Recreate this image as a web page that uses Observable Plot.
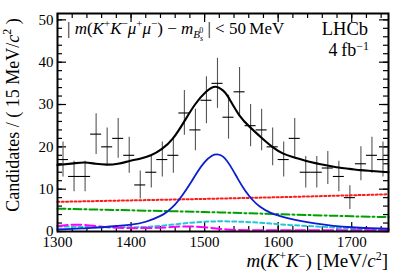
<!DOCTYPE html>
<html>
<head>
<meta charset="utf-8">
<script src="https://cdn.jsdelivr.net/npm/d3@7"></script>
<script src="https://cdn.jsdelivr.net/npm/@observablehq/plot@0.6"></script>
<style>
  html, body { margin: 0; padding: 0; background: white; }
  svg { display: block; }
</style>
</head>
<body>
<div id="chart"></div>
<script>
// ---- Data ----
const binCenters = [1307.5,1322.5,1337.5,1352.5,1367.5,1382.5,1397.5,1412.5,1427.5,1442.5,
                    1457.5,1472.5,1487.5,1502.5,1517.5,1532.5,1547.5,1562.5,1577.5,1592.5,
                    1607.5,1622.5,1637.5,1652.5,1667.5,1682.5,1697.5,1712.5,1727.5,1742.5];
const binCounts  = [17,13,13,23,20,22,18,11,14,17,18,28,24,31,35,27,33,25,24,20,17,22,14,14,15,13,8,16,18,17];
const binHalfWidth = 7.5;

const totalMass = [1300,1322,1337,1352,1367,1382,1397,1412,1427,1442,1457,1472,1487,1502,1515,1525,1532,1547,1562,1577,1592,1607,1622,1637,1652,1667,1682,1697,1712,1727,1750];
const totalFit  = [15.7,16.1,16.3,16.0,15.8,16.0,16.6,17.2,18.0,19.5,22.0,25.9,30.0,33.0,34.2,33.3,31.8,27.5,24.6,22.2,20.0,18.4,17.5,16.7,16.1,15.6,15.1,14.8,14.5,14.3,14.0];

const signalMass = [1300,1320,1340,1360,1380,1400,1420,1440,1450,1460,1470,1480,1490,1500,1510,1517,1525,1535,1545,1555,1565,1575,1590,1610,1630,1650,1675,1700,1725,1750];
const signalFit  = [0.5,0.6,0.8,1.0,1.3,1.6,2.3,3.7,4.8,6.4,8.6,11.2,14.0,16.4,17.9,18.2,17.7,15.5,12.5,9.7,7.5,5.9,4.4,3.3,2.5,1.9,1.35,1.0,0.8,0.65];

const redMass = [1300,1400,1500,1600,1700,1750];
const redFit  = [7.0,7.35,7.7,8.1,8.55,8.8];

const greenMass = [1300,1400,1500,1600,1700,1750];
const greenFit  = [5.4,5.0,4.6,4.1,3.6,3.4];

const cyanMass = [1300,1330,1360,1400,1430,1460,1490,1520,1550,1580,1610,1640,1670,1700,1730,1750];
const cyanFit  = [1.2,1.1,1.0,1.0,1.2,1.7,2.2,2.4,2.3,2.0,1.6,1.3,1.0,0.7,0.5,0.4];

const magentaMass = [1300,1320,1340,1370,1400,1440,1470,1500,1530,1560,1600,1650,1700,1750];
const magentaFit  = [1.3,1.6,1.5,1.0,0.8,0.9,1.2,1.0,0.5,0.3,0.3,0.3,0.3,0.3];

const xMajorTicks = [1300,1400,1500,1600,1700];
const xMinorTicks = d3.range(1300, 1751, 20);
const yMajorTicks = [0,10,20,30,40,50];
const yMinorTicks = d3.range(0, 51.5, 2);

// ---- Build tables ----
const points = binCenters.map((m, i) => ({m, n: binCounts[i], e: Math.sqrt(binCounts[i])}));
const toRows = (xs, ys) => xs.map((x, i) => ({x, y: ys[i]}));

const W = 409, H = 277;
const mL = 57, mR = 21, mT = 13, mB = 46;
const pW = W - mL - mR, pH = H - mT - mB;
const majorLen = 9, minorLen = 5;

const plot = Plot.plot({
  width: W, height: H,
  marginLeft: mL, marginRight: mR, marginTop: mT, marginBottom: mB,
  x: {domain: [1300, 1750]},
  y: {domain: [0, 51.5]},
  style: {fontFamily: "'Liberation Serif', 'Times New Roman', serif", fontSize: "15px", color: "black", background: "white"},
  marks: [
    Plot.axisX(xMajorTicks, {anchor: "bottom", tickSize: 0, tickPadding: 5, fontSize: 15, label: null, tickFormat: d => String(d)}),
    Plot.axisY(yMajorTicks, {anchor: "left", tickSize: 0, tickPadding: 4, fontSize: 15, label: null, tickFormat: d => String(d)}),
    // inward ticks on all four sides
    Plot.tickX(xMajorTicks, {x: d => d, insetTop: pH - majorLen, stroke: "black", strokeWidth: 1.2}),
    Plot.tickX(xMinorTicks, {x: d => d, insetTop: pH - minorLen, stroke: "black", strokeWidth: 1.2}),
    Plot.tickX(xMajorTicks, {x: d => d, insetBottom: pH - majorLen, stroke: "black", strokeWidth: 1.2}),
    Plot.tickX(xMinorTicks, {x: d => d, insetBottom: pH - minorLen, stroke: "black", strokeWidth: 1.2}),
    Plot.tickY(yMajorTicks, {y: d => d, insetRight: pW - majorLen, stroke: "black", strokeWidth: 1.2}),
    Plot.tickY(yMinorTicks, {y: d => d, insetRight: pW - minorLen, stroke: "black", strokeWidth: 1.2}),
    Plot.tickY(yMajorTicks, {y: d => d, insetLeft: pW - majorLen, stroke: "black", strokeWidth: 1.2}),
    Plot.tickY(yMinorTicks, {y: d => d, insetLeft: pW - minorLen, stroke: "black", strokeWidth: 1.2}),
    // data points
    Plot.ruleX(points, {x: "m", y1: d => d.n - d.e, y2: d => d.n + d.e, stroke: "#555", strokeWidth: 1.1}),
    Plot.ruleY(points, {y: "n", x1: d => d.m - binHalfWidth, x2: d => d.m + binHalfWidth, stroke: "black", strokeWidth: 1.1}),
    // fit components
    Plot.line(toRows(redMass, redFit), {x: "x", y: "y", stroke: "#ff1a1a", strokeWidth: 2, strokeDasharray: "2 2.3", curve: "natural"}),
    Plot.line(toRows(greenMass, greenFit), {x: "x", y: "y", stroke: "#00a000", strokeWidth: 2, strokeDasharray: "8 3 2 3", curve: "natural"}),
    Plot.line(toRows(cyanMass, cyanFit), {x: "x", y: "y", stroke: "#20c8d8", strokeWidth: 2, strokeDasharray: "4 3", curve: "natural"}),
    Plot.line(toRows(magentaMass, magentaFit), {x: "x", y: "y", stroke: "#ff00ff", strokeWidth: 2, strokeDasharray: "10 4", curve: "natural"}),
    Plot.line(toRows(signalMass, signalFit), {x: "x", y: "y", stroke: "#0a1ed0", strokeWidth: 1.8, curve: "natural"}),
    Plot.line(toRows(totalMass, totalFit), {x: "x", y: "y", stroke: "black", strokeWidth: 2.1, curve: "natural"}),
    Plot.frame({stroke: "black", strokeWidth: 2})
  ]
});

document.getElementById("chart").appendChild(plot);

// ---- rich text (italic, sub/superscripts) ----
const svg = d3.select(plot);
const FONT = "'Liberation Serif', 'Times New Roman', serif";
function richText(parent, segs, attrs) {
  const t = parent.append("text").attr("font-family", FONT).attr("fill", "black").attr("text-anchor", "start");
  for (const [k, v] of Object.entries(attrs)) t.attr(k, v);
  let cur = 0;
  for (const s of segs) {
    const shift = s.shift || 0;
    const ts = t.append("tspan").text(s.t);
    if (shift !== cur) ts.attr("dy", shift - cur);
    if (s.dx) ts.attr("dx", s.dx);
    if (s.i) ts.attr("font-style", "italic");
    if (s.size) ts.attr("font-size", s.size);
    cur = shift;
  }
  return t;
}
const sup = (t, size = 11, shift = -7) => ({t, size, shift});

// annotation
richText(svg, [
  {t: "| "},
  {t: "m", i: true}, {t: "("}, {t: "K", i: true}, sup("+"), {t: "K", i: true}, sup("\u2212"),
  {t: "\u03bc", i: true}, sup("+"), {t: "\u03bc", i: true}, sup("\u2212"), {t: ")"},
  {t: " \u2212 "}, {t: "m", i: true},
  {t: "B", i: true, size: 11, shift: 4}, {t: "s", i: true, size: 8, shift: 7},
  {t: "0", size: 8, shift: -1, dx: -4},
  {t: " | < 50\u2009MeV", shift: 0}
], {x: 67, y: 34, "font-size": 17});

richText(svg, [{t: "LHCb"}], {x: 368, y: 35, "font-size": 18.5, "text-anchor": "end"});
richText(svg, [{t: "4\u2009fb"}, sup("\u22121", 12, -6)], {x: 369, y: 56, "font-size": 18, "text-anchor": "end"});

// x title
richText(svg, [
  {t: "m", i: true}, {t: "("}, {t: "K", i: true}, sup("+", 12, -7), {t: "K", i: true}, sup("\u2212", 12, -7),
  {t: ")", shift: 0}, {t: " [MeV/"}, {t: "c", i: true}, sup("2", 12, -7), {t: "]", shift: 0}
], {x: 388, y: 267, "font-size": 19, "text-anchor": "end"});

// y title
richText(svg, [
  {t: "Candidates / ( 15 MeV/"}, {t: "c", i: true}, sup("2", 12, -8), {t: " )", shift: 0}
], {transform: "translate(19,115) rotate(-90)", "font-size": 18, "text-anchor": "middle"});
</script>
</body>
</html>
